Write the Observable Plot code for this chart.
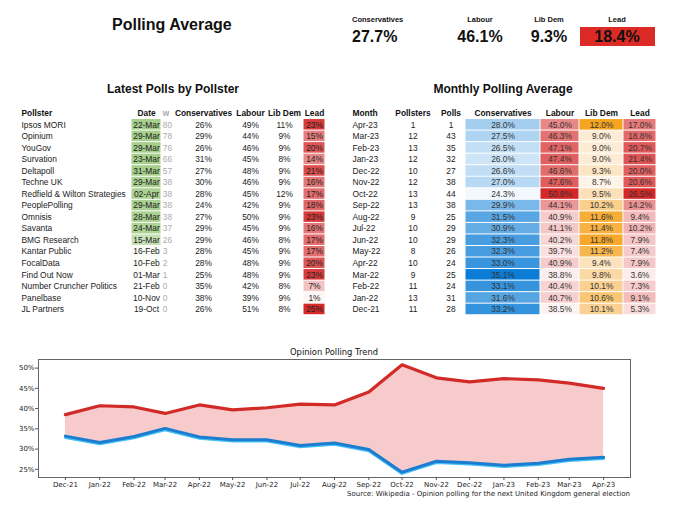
<!DOCTYPE html>
<html><head><meta charset="utf-8">
<script src="https://cdn.jsdelivr.net/npm/d3@7"></script>
<script src="https://cdn.jsdelivr.net/npm/@observablehq/plot@0.6"></script>
<style>
body{margin:0;background:#fff;}
#root{position:relative;width:680px;height:517px;overflow:hidden;font-family:"Liberation Sans",Arial,sans-serif;color:#111;}
.t{position:absolute;white-space:nowrap;line-height:1;}
.plot-abs{position:absolute;}
</style></head><body><div id="root"></div>
<script>
// ---------- DATA ----------
const kpiLabels = ["Conservatives", "Labour", "Lib Dem", "Lead"];
const kpiValues = [27.7, 46.1, 9.3, 18.4];

const pollsters = ["Ipsos MORI","Opinium","YouGov","Survation","Deltapoll","Techne UK","Redfield & Wilton Strategies","PeoplePolling","Omnisis","Savanta","BMG Research","Kantar Public","FocalData","Find Out Now","Number Cruncher Politics","Panelbase","JL Partners"];
const pollDates = ["22-Mar","29-Mar","29-Mar","23-Mar","31-Mar","29-Mar","02-Apr","29-Mar","28-Mar","24-Mar","15-Mar","16-Feb","10-Feb","01-Mar","21-Feb","10-Nov","19-Oct"];
const pollWeights = [80,78,76,66,57,38,38,38,38,37,26,3,2,1,0,0,0];
const pollCon = [26,29,26,31,27,30,28,24,27,29,29,28,28,25,35,38,26];
const pollLab = [49,44,46,45,48,46,45,42,50,45,46,45,48,48,42,39,51];
const pollLD = [11,9,9,8,9,9,12,9,9,9,8,9,9,9,8,9,8];
const pollLead = [23,15,20,14,21,16,17,18,23,16,17,17,20,23,7,1,25];

const months = ["Apr-23","Mar-23","Feb-23","Jan-23","Dec-22","Nov-22","Oct-22","Sep-22","Aug-22","Jul-22","Jun-22","May-22","Apr-22","Mar-22","Feb-22","Jan-22","Dec-21"];
const monthPollsters = [1,12,13,12,10,12,13,13,9,10,10,8,10,9,11,13,11];
const monthPolls = [1,43,35,32,27,38,44,38,25,29,29,26,24,25,24,31,28];
const monthCon = [28.0,27.5,26.5,26.0,26.6,27.0,24.3,29.9,31.5,30.9,32.3,32.3,33.0,35.1,33.1,31.6,33.2];
const monthLab = [45.0,46.3,47.1,47.4,46.6,47.6,50.8,44.1,40.9,41.1,40.2,39.7,40.9,38.8,40.4,40.7,38.5];
const monthLD = [12.0,9.0,9.0,9.0,9.3,8.7,9.5,10.2,11.6,11.4,11.8,11.2,9.4,9.8,10.1,10.6,10.1];
const monthLead = [17.0,18.8,20.7,21.4,20.0,20.6,26.5,14.2,9.4,10.2,7.9,7.4,7.9,3.6,7.3,9.1,5.3];

// ---------- helpers ----------
const root = document.getElementById("root");
function text(str, {x, y, size, weight = "normal", anchor = "middle", color = "#111", family}) {
  const d = document.createElement("div");
  d.className = "t";
  d.textContent = str;
  d.style.fontSize = size + "px";
  d.style.fontWeight = weight;
  d.style.color = color;
  if (family) d.style.fontFamily = family;
  d.style.left = x + "px";
  d.style.top = y + "px";
  const tx = anchor === "middle" ? "-50%" : anchor === "end" ? "-100%" : "0";
  d.style.transform = `translate(${tx},-50%)`;
  root.appendChild(d);
  return d;
}
function place(svg, left, top) {
  svg.classList.add("plot-abs");
  svg.style.left = left + "px";
  svg.style.top = top + "px";
  root.appendChild(svg);
}

// ---------- header ----------
text("Polling Average", {x: 112, y: 25, size: 16, weight: "bold", anchor: "start"});
const kpiX = [352, 480, 549, 617];
const kpiAnchor = ["start", "middle", "middle", "middle"];
const box = document.createElement("div");
box.style.cssText = "position:absolute;left:580px;top:27px;width:75px;height:19px;background:#dc2a26;";
root.appendChild(box);
kpiLabels.forEach((lab, i) => {
  text(lab, {x: kpiX[i], y: 20, size: 7.5, weight: "bold", anchor: kpiAnchor[i]});
  text(kpiValues[i].toFixed(1) + "%", {x: kpiX[i], y: 37, size: 16, weight: "bold", anchor: kpiAnchor[i], color: "#111"});
});

// ---------- tables ----------
const ROW = 11.54;
const FS = 8.4;
const FONT = '"Liberation Sans", Arial, sans-serif';
function column(rows, {key, fillKey, label, left, width, align = "middle", fmt = d => d, color = null,
                       top, textFill = "#222", headerFill = "#111", dx = 0}) {
  const H = (rows.length + 1) * ROW;
  const yDomain = ["__h", ...rows.map(r => r.id)];
  const marks = [];
  if (color) marks.push(Plot.cell(rows, {y: "id", fill: fillKey || key, insetTop: 0.5, insetBottom: 0.5, insetLeft: 0.5, insetRight: 0.5}));
  marks.push(Plot.text([label], {y: () => "__h", text: d => d, frameAnchor: align, fontWeight: "bold", fill: headerFill, dx, fontSize: FS}));
  marks.push(Plot.text(rows, {y: "id", text: d => fmt(d[key]), frameAnchor: align, fill: textFill, dx, fontSize: FS}));
  const opts = {
    width, height: H, margin: 0,
    y: {type: "band", domain: yDomain, range: [0, H], padding: 0, round: false, axis: null},
    style: {fontFamily: FONT, fontSize: FS + "px", background: "transparent", overflow: "visible", maxWidth: "none"},
    marks
  };
  if (color) opts.color = color;
  place(Plot.plot(opts), left, top);
}

// Left table
text("Latest Polls by Pollster", {x: 173, y: 89, size: 12, weight: "bold"});
const pollRows = pollsters.map((p, i) => ({id: p, name: p, date: pollDates[i], w: pollWeights[i],
  con: pollCon[i], lab: pollLab[i], ld: pollLD[i], lead: pollLead[i]}));
const TOP = 112.8 - ROW / 2;
const pct = d => d + "%";
column(pollRows, {key: "name", label: "Pollster", left: 21, width: 108, align: "left", top: TOP});
// date cells shaded by poll weight
column(pollRows, {key: "date", fillKey: "w", label: "Date", left: 130.5, width: 30, top: TOP,
  color: {type: "linear", domain: [0, 40], range: ["#ffffff", "#a5cf8b"], clamp: true}});
column(pollRows, {key: "w", label: "w", left: 161, width: 12, align: "left", dx: 1.3, top: TOP, textFill: "#aaa", headerFill: "#aaa"});
column(pollRows, {key: "con", label: "Conservatives", left: 175, width: 56, fmt: pct, top: TOP});
column(pollRows, {key: "lab", label: "Labour", left: 232, width: 36, fmt: pct, top: TOP});
column(pollRows, {key: "ld", label: "Lib Dem", left: 268, width: 32, fmt: pct, top: TOP});
column(pollRows, {key: "lead", label: "Lead", left: 302.5, width: 22, fmt: pct, top: TOP,
  color: {type: "linear", domain: [0, 25], range: ["#ffffff", "#d42a2a"]}});

// Right table
text("Monthly Polling Average", {x: 503, y: 89, size: 12, weight: "bold"});
const monthRows = months.map((m, i) => ({id: m, month: m, np: monthPollsters[i], polls: monthPolls[i],
  con: monthCon[i], lab: monthLab[i], ld: monthLD[i], lead: monthLead[i]}));
const f1 = d => d.toFixed(1) + "%";
column(monthRows, {key: "month", label: "Month", left: 352, width: 40, align: "left", top: TOP});
column(monthRows, {key: "np", label: "Pollsters", left: 392, width: 41, top: TOP});
column(monthRows, {key: "polls", label: "Polls", left: 436, width: 29, top: TOP});
column(monthRows, {key: "con", label: "Conservatives", left: 464.5, width: 75, fmt: f1, top: TOP, textFill: "#333",
  color: {type: "linear", domain: [24.3, 35.1], range: ["#f2f8fd", "#0b7dd6"]}});
column(monthRows, {key: "lab", label: "Labour", left: 539.5, width: 39, fmt: f1, top: TOP, textFill: "#333",
  color: {type: "linear", domain: [38.5, 50.8], range: ["#fdf3f3", "#d62728"]}});
column(monthRows, {key: "ld", label: "Lib Dem", left: 578.5, width: 44, fmt: f1, top: TOP, textFill: "#333",
  color: {type: "linear", domain: [8.7, 12.0], range: ["#fef3e7", "#f5a41f"]}});
column(monthRows, {key: "lead", label: "Lead", left: 622.5, width: 33, fmt: f1, top: TOP, textFill: "#333",
  color: {type: "linear", domain: [3.6, 26.5], range: ["#fcecec", "#d62728"]}});

// ---------- trend chart ----------
const parseMonth = d3.utcParse("%b-%y");
const trend = months.map((m, i) => ({date: parseMonth(m), con: monthCon[i], lab: monthLab[i]})).reverse();
const x0 = parseMonth("Dec-21"), x1 = parseMonth("Apr-23");
const pad = (x1 - x0) * 0.05;
const yMin = d3.min(monthCon), yMax = d3.max(monthLab), yPad = (yMax - yMin) * 0.05;
const DV = '"DejaVu Sans", sans-serif';
const chart = Plot.plot({
  width: 680, height: 165,
  marginLeft: 38, marginRight: 50, marginTop: 19, marginBottom: 28,
  x: {type: "utc", domain: [new Date(+x0 - pad), new Date(+x1 + pad)]},
  y: {domain: [yMin - yPad, yMax + yPad]},
  style: {fontFamily: DV, fontSize: "7px", background: "transparent", color: "#333", overflow: "visible", maxWidth: "none"},
  marks: [
    Plot.areaY(trend, {x: "date", y1: "con", y2: "lab", fill: "#f7cbcb"}),
    Plot.line(trend, {x: "date", y: "con", stroke: "#45c0f5", strokeWidth: 3, dy: 1.3}),
    Plot.line(trend, {x: "date", y: "con", stroke: "#1c7ccf", strokeWidth: 3}),
    Plot.line(trend, {x: "date", y: "lab", stroke: "#d22a27", strokeWidth: 3.2}),
    Plot.frame({stroke: "#666"}),
    Plot.axisX({ticks: trend.map(d => d.date), tickFormat: d3.utcFormat("%b-%y"), tickSize: 3, tickPadding: 1.5, label: null, fontSize: 7, stroke: "#555", fill: "#222"}),
    Plot.axisY({ticks: [25, 30, 35, 40, 45, 50], tickFormat: d => d + "%", tickSize: 3, tickPadding: 1, label: null, fontSize: 7, stroke: "#555", fill: "#222"})
  ]
});
place(chart, 0, 340);
text("Opinion Polling Trend", {x: 334, y: 352, size: 8.4, family: DV, color: "#111"});
text("Source: Wikipedia - Opinion polling for the next United Kingdom general election", {x: 630, y: 494, size: 7, family: DV, anchor: "end", color: "#222"});
</script></body></html>
